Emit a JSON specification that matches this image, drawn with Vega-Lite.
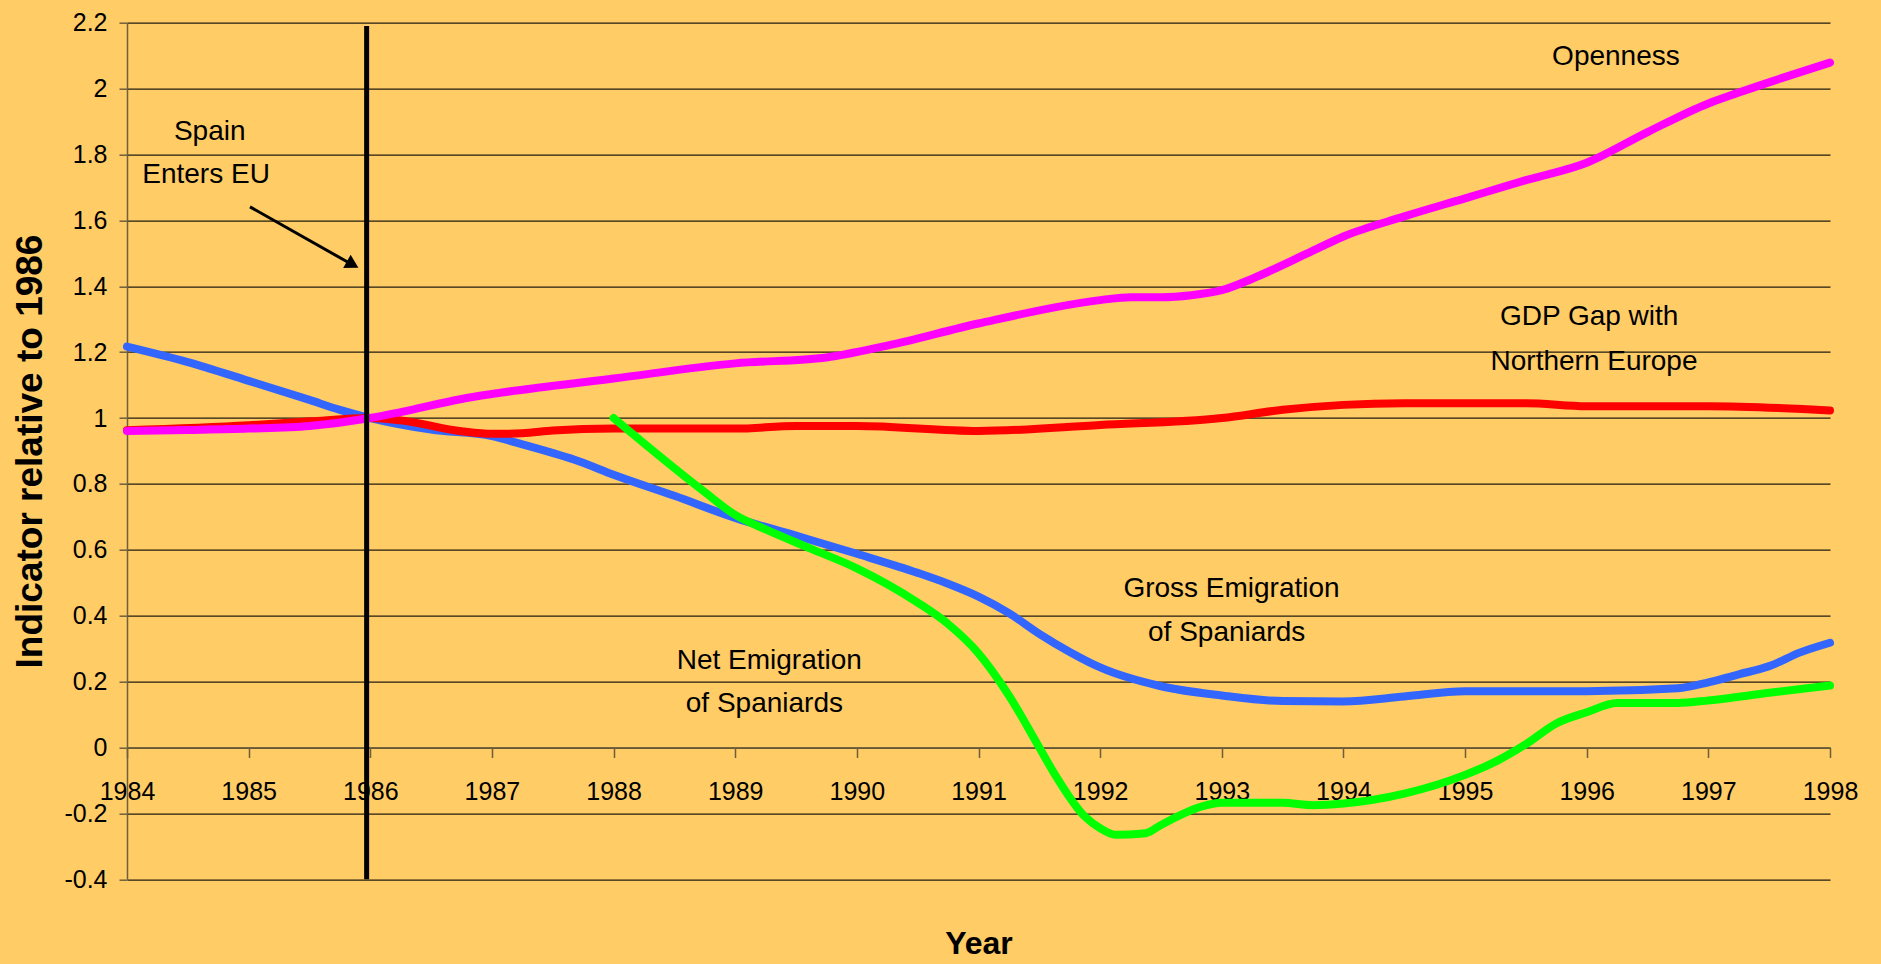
{
  "$schema": "https://vega.github.io/schema/vega-lite/v6.json",
  "width": 1703,
  "height": 856.6,
  "autosize": "none",
  "padding": {"left": 127, "top": 22.7, "right": 51, "bottom": 84.7},
  "background": "#FFCC66",
  "config": {
    "view": {"stroke": null},
    "font": "Liberation Sans, Arial, sans-serif"
  },
  "datasets": {
    "lines": [
      {"series": "Gross", "year": 1984, "value": 1.217},
      {"series": "Gross", "year": 1984.5, "value": 1.17},
      {"series": "Gross", "year": 1985, "value": 1.113},
      {"series": "Gross", "year": 1985.5, "value": 1.055},
      {"series": "Gross", "year": 1985.75, "value": 1.025},
      {"series": "Gross", "year": 1986, "value": 1.0},
      {"series": "Gross", "year": 1986.5, "value": 0.965},
      {"series": "Gross", "year": 1987, "value": 0.945},
      {"series": "Gross", "year": 1987.25, "value": 0.92},
      {"series": "Gross", "year": 1987.72, "value": 0.868},
      {"series": "Gross", "year": 1988, "value": 0.828},
      {"series": "Gross", "year": 1988.5, "value": 0.764},
      {"series": "Gross", "year": 1989, "value": 0.697},
      {"series": "Gross", "year": 1989.5, "value": 0.643},
      {"series": "Gross", "year": 1990, "value": 0.588},
      {"series": "Gross", "year": 1990.5, "value": 0.53},
      {"series": "Gross", "year": 1990.75, "value": 0.497},
      {"series": "Gross", "year": 1991, "value": 0.458},
      {"series": "Gross", "year": 1991.25, "value": 0.408},
      {"series": "Gross", "year": 1991.5, "value": 0.345},
      {"series": "Gross", "year": 1991.75, "value": 0.29},
      {"series": "Gross", "year": 1992, "value": 0.243},
      {"series": "Gross", "year": 1992.5, "value": 0.186},
      {"series": "Gross", "year": 1993, "value": 0.158},
      {"series": "Gross", "year": 1993.5, "value": 0.141},
      {"series": "Gross", "year": 1994, "value": 0.14},
      {"series": "Gross", "year": 1994.5, "value": 0.155},
      {"series": "Gross", "year": 1995, "value": 0.171},
      {"series": "Gross", "year": 1996, "value": 0.171},
      {"series": "Gross", "year": 1996.75, "value": 0.18},
      {"series": "Gross", "year": 1997, "value": 0.198},
      {"series": "Gross", "year": 1997.25, "value": 0.222},
      {"series": "Gross", "year": 1997.5, "value": 0.247},
      {"series": "Gross", "year": 1997.75, "value": 0.288},
      {"series": "Gross", "year": 1998, "value": 0.318},
      {"series": "GDP", "year": 1984, "value": 0.963},
      {"series": "GDP", "year": 1985, "value": 0.978},
      {"series": "GDP", "year": 1985.5, "value": 0.99},
      {"series": "GDP", "year": 1986, "value": 1.0},
      {"series": "GDP", "year": 1986.25, "value": 0.993},
      {"series": "GDP", "year": 1986.75, "value": 0.96},
      {"series": "GDP", "year": 1987, "value": 0.952},
      {"series": "GDP", "year": 1987.25, "value": 0.954},
      {"series": "GDP", "year": 1987.5, "value": 0.962},
      {"series": "GDP", "year": 1988, "value": 0.968},
      {"series": "GDP", "year": 1989, "value": 0.968},
      {"series": "GDP", "year": 1989.5, "value": 0.976},
      {"series": "GDP", "year": 1990, "value": 0.976},
      {"series": "GDP", "year": 1991, "value": 0.961},
      {"series": "GDP", "year": 1992, "value": 0.979},
      {"series": "GDP", "year": 1993, "value": 1.0},
      {"series": "GDP", "year": 1993.5, "value": 1.025},
      {"series": "GDP", "year": 1994, "value": 1.04},
      {"series": "GDP", "year": 1994.5, "value": 1.045},
      {"series": "GDP", "year": 1995.5, "value": 1.045},
      {"series": "GDP", "year": 1996, "value": 1.036},
      {"series": "GDP", "year": 1997, "value": 1.036},
      {"series": "GDP", "year": 1998, "value": 1.023},
      {"series": "Openness", "year": 1984, "value": 0.961},
      {"series": "Openness", "year": 1984.5, "value": 0.964},
      {"series": "Openness", "year": 1985, "value": 0.968},
      {"series": "Openness", "year": 1985.5, "value": 0.976},
      {"series": "Openness", "year": 1986, "value": 1.0},
      {"series": "Openness", "year": 1986.25, "value": 1.018},
      {"series": "Openness", "year": 1986.75, "value": 1.058},
      {"series": "Openness", "year": 1987, "value": 1.073},
      {"series": "Openness", "year": 1988, "value": 1.12},
      {"series": "Openness", "year": 1989, "value": 1.166},
      {"series": "Openness", "year": 1989.75, "value": 1.184},
      {"series": "Openness", "year": 1990.25, "value": 1.22},
      {"series": "Openness", "year": 1991, "value": 1.287},
      {"series": "Openness", "year": 1992, "value": 1.358},
      {"series": "Openness", "year": 1992.25, "value": 1.367},
      {"series": "Openness", "year": 1992.5, "value": 1.367},
      {"series": "Openness", "year": 1992.75, "value": 1.373},
      {"series": "Openness", "year": 1993, "value": 1.388},
      {"series": "Openness", "year": 1993.25, "value": 1.423},
      {"series": "Openness", "year": 1993.75, "value": 1.508},
      {"series": "Openness", "year": 1994, "value": 1.551},
      {"series": "Openness", "year": 1994.5, "value": 1.612},
      {"series": "Openness", "year": 1995, "value": 1.667},
      {"series": "Openness", "year": 1995.5, "value": 1.722},
      {"series": "Openness", "year": 1996, "value": 1.775},
      {"series": "Openness", "year": 1996.5, "value": 1.868},
      {"series": "Openness", "year": 1997, "value": 1.955},
      {"series": "Openness", "year": 1997.25, "value": 1.988},
      {"series": "Openness", "year": 1998, "value": 2.079},
      {"series": "Net", "year": 1988, "value": 1.0},
      {"series": "Net", "year": 1988.75, "value": 0.775},
      {"series": "Net", "year": 1989, "value": 0.706},
      {"series": "Net", "year": 1989.25, "value": 0.662},
      {"series": "Net", "year": 1989.625, "value": 0.603},
      {"series": "Net", "year": 1990, "value": 0.544},
      {"series": "Net", "year": 1990.5, "value": 0.44},
      {"series": "Net", "year": 1990.75, "value": 0.375},
      {"series": "Net", "year": 1991, "value": 0.286},
      {"series": "Net", "year": 1991.25, "value": 0.158},
      {"series": "Net", "year": 1991.5, "value": 0.0},
      {"series": "Net", "year": 1991.625, "value": -0.08},
      {"series": "Net", "year": 1991.875, "value": -0.21},
      {"series": "Net", "year": 1992, "value": -0.245},
      {"series": "Net", "year": 1992.125, "value": -0.265},
      {"series": "Net", "year": 1992.375, "value": -0.26},
      {"series": "Net", "year": 1992.5, "value": -0.235},
      {"series": "Net", "year": 1992.875, "value": -0.175},
      {"series": "Net", "year": 1993, "value": -0.168},
      {"series": "Net", "year": 1993.5, "value": -0.168},
      {"series": "Net", "year": 1993.75, "value": -0.175},
      {"series": "Net", "year": 1994, "value": -0.17},
      {"series": "Net", "year": 1994.5, "value": -0.14},
      {"series": "Net", "year": 1995, "value": -0.083},
      {"series": "Net", "year": 1995.25, "value": -0.043},
      {"series": "Net", "year": 1995.5, "value": 0.01},
      {"series": "Net", "year": 1995.75, "value": 0.073},
      {"series": "Net", "year": 1996, "value": 0.107},
      {"series": "Net", "year": 1996.25, "value": 0.135},
      {"series": "Net", "year": 1996.75, "value": 0.135},
      {"series": "Net", "year": 1997, "value": 0.143},
      {"series": "Net", "year": 1997.5, "value": 0.166},
      {"series": "Net", "year": 1998, "value": 0.188}
    ],
    "notes": [
      {"label": "Spain", "year": 1984.68, "value": 1.869},
      {"label": "Enters EU", "year": 1984.65, "value": 1.738},
      {"label": "Openness", "year": 1996.24, "value": 2.096},
      {"label": "GDP Gap with", "year": 1996.02, "value": 1.308},
      {"label": "Northern Europe", "year": 1996.06, "value": 1.171},
      {"label": "Gross Emigration", "year": 1993.08, "value": 0.482},
      {"label": "of Spaniards", "year": 1993.04, "value": 0.348},
      {"label": "Net Emigration", "year": 1989.28, "value": 0.263},
      {"label": "of Spaniards", "year": 1989.24, "value": 0.133}
    ]
  },
  "layer": [
    {
      "data": {"name": "lines"},
      "mark": {"type": "line", "strokeWidth": 8, "interpolate": "monotone", "strokeCap": "round", "strokeJoin": "round"},
      "encoding": {
        "x": {
          "field": "year", "type": "quantitative",
          "scale": {"domain": [1984, 1998], "nice": false, "zero": false},
          "axis": {
            "title": "Year",
            "titleFont": "Liberation Sans, Arial, sans-serif",
            "titleFontSize": 32, "titleFontWeight": "bold", "titleColor": "black",
            "titleY": 196, "titleBaseline": "middle",
            "values": [1984,1985,1986,1987,1988,1989,1990,1991,1992,1993,1994,1995,1996,1997,1998],
            "labelExpr": "'' + datum.value",
            "offset": -131.8,
            "grid": false,
            "domainColor": "#6e5f3e", "domainWidth": 1.5,
            "tickColor": "#6e5f3e", "tickSize": 10, "tickWidth": 1.5,
            "labelFontSize": 25, "labelColor": "black", "labelPadding": 22,
            "labelOverlap": false, "labelFlush": false, "labelBound": false
          }
        },
        "y": {
          "field": "value", "type": "quantitative",
          "scale": {"domain": [-0.4, 2.2], "nice": false, "zero": false},
          "axis": {
            "title": "Indicator relative to 1986",
            "titleFont": "Liberation Sans, Arial, sans-serif",
            "titleFontSize": 37, "titleFontWeight": "bold", "titleColor": "black",
            "titleX": -97, "titleY": 428.3, "titleAngle": -90, "titleBaseline": "middle", "titleAlign": "center",
            "values": [-0.4,-0.2,0,0.2,0.4,0.6,0.8,1,1.2,1.4,1.6,1.8,2,2.2],
            "labelExpr": "'' + datum.value",
            "grid": true, "gridColor": "#221d12", "gridWidth": 1.2,
            "domainColor": "#6e5f3e", "domainWidth": 1.5,
            "tickColor": "#6e5f3e", "tickSize": 8, "tickWidth": 1.5,
            "labelFontSize": 25, "labelColor": "black", "labelPadding": 12,
            "labelOverlap": false, "labelBound": false, "labelFlush": false
          }
        },
        "color": {
          "field": "series", "type": "nominal",
          "scale": {"domain": ["Gross", "GDP", "Openness", "Net"], "range": ["#3366FF", "#FF0000", "#FF00FF", "#00FF00"]},
          "legend": null
        }
      }
    },
    {
      "data": {"values": [{"year": 1985.97, "value": -0.4, "value2": 2.19}]},
      "mark": {"type": "rule", "color": "black", "strokeWidth": 5},
      "encoding": {
        "x": {"field": "year", "type": "quantitative"},
        "y": {"field": "value", "type": "quantitative"},
        "y2": {"field": "value2"}
      }
    },
    {
      "data": {"values": [{"year": 1985.011, "value": 1.641, "year2": 1985.85, "value2": 1.466}]},
      "mark": {"type": "rule", "color": "black", "strokeWidth": 3},
      "encoding": {
        "x": {"field": "year", "type": "quantitative"},
        "y": {"field": "value", "type": "quantitative"},
        "x2": {"field": "year2"},
        "y2": {"field": "value2"}
      }
    },
    {
      "data": {"values": [{"year": 1985.855, "value": 1.466}]},
      "mark": {"type": "point", "shape": "triangle-right", "filled": true, "color": "black", "opacity": 1, "size": 230, "angle": 29.5},
      "encoding": {
        "x": {"field": "year", "type": "quantitative"},
        "y": {"field": "value", "type": "quantitative"}
      }
    },
    {
      "data": {"name": "notes"},
      "mark": {"type": "text", "fontSize": 28, "color": "black", "align": "center", "baseline": "middle", "font": "Liberation Sans, Arial, sans-serif"},
      "encoding": {
        "x": {"field": "year", "type": "quantitative"},
        "y": {"field": "value", "type": "quantitative"},
        "text": {"field": "label"}
      }
    }
  ]
}
